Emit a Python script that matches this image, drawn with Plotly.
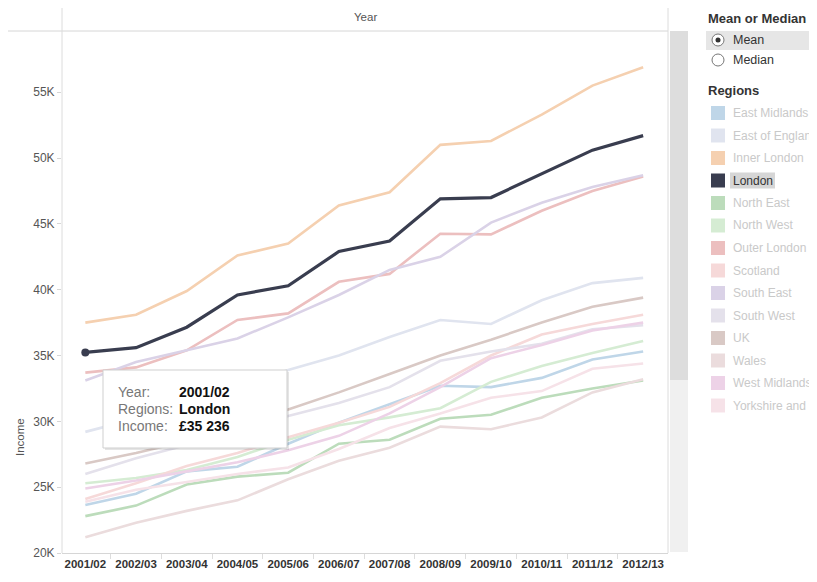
import plotly.graph_objects as go

# ---------------- data ----------------
years = ["2001/02", "2002/03", "2003/04", "2004/05", "2005/06", "2006/07",
         "2007/08", "2008/09", "2009/10", "2010/11", "2011/12", "2012/13"]

regions = ["East Midlands", "East of England", "Inner London", "London", "North East",
           "North West", "Outer London", "Scotland", "South East", "South West", "UK",
           "Wales", "West Midlands", "Yorkshire and the Humber"]

east_midlands   = [23650, 24500, 26200, 26550, 28300, 29900, 31300, 32700, 32600, 33300, 34700, 35300]
east_of_england = [29200, 30200, 31200, 32600, 33900, 35000, 36400, 37700, 37400, 39200, 40500, 40900]
inner_london    = [37500, 38100, 39900, 42600, 43500, 46400, 47400, 51000, 51300, 53300, 55500, 56900]
london          = [35236, 35600, 37150, 39600, 40300, 42900, 43700, 46900, 47000, 48800, 50600, 51700]
north_east      = [22800, 23600, 25200, 25800, 26100, 28300, 28600, 30200, 30500, 31800, 32500, 33100]
north_west      = [25300, 25700, 26300, 27300, 28600, 29700, 30300, 31000, 33000, 34200, 35200, 36100]
outer_london    = [33700, 34100, 35400, 37700, 38200, 40600, 41200, 44250, 44200, 46000, 47500, 48600]
scotland        = [24100, 25300, 26600, 27600, 28800, 29900, 31100, 32900, 35000, 36600, 37400, 38100]
south_east      = [33100, 34500, 35400, 36300, 37900, 39600, 41500, 42500, 45100, 46600, 47800, 48700]
south_west      = [26000, 27200, 28200, 29300, 30400, 31400, 32600, 34600, 35300, 35900, 37000, 37300]
uk              = [26800, 27600, 28500, 29600, 30900, 32200, 33600, 35000, 36200, 37500, 38700, 39400]
wales           = [21200, 22300, 23200, 24000, 25600, 27000, 28000, 29600, 29400, 30300, 32200, 33200]
west_midlands   = [24900, 25500, 26200, 26900, 27800, 28900, 30600, 32600, 34800, 35800, 36900, 37500]
yorkshire       = [23900, 24800, 25400, 26000, 26500, 27900, 29500, 30600, 31800, 32300, 34000, 34400]

series_values = [east_midlands, east_of_england, inner_london, london, north_east,
                 north_west, outer_london, scotland, south_east, south_west, uk,
                 wales, west_midlands, yorkshire]

colors = ["#bfd6e8", "#e0e4ef", "#f5d0b0", "#393d4f", "#bcdcbb",
          "#d5ecd3", "#ecbfbf", "#f6d9d9", "#dad2e7", "#e4e1eb", "#d9c9c5",
          "#ebdcdd", "#edd2e7", "#f6e2e8"]

selected = "London"
y_ticks = [20000, 25000, 30000, 35000, 40000, 45000, 50000, 55000]
y_tick_text = ["20K", "25K", "30K", "35K", "40K", "45K", "50K", "55K"]

# ---------------- layout helpers (window pixel coordinates) ----------------
WIN_W, WIN_H = 817, 582
OFF = 8                      # default page body margin
W, H = WIN_W - OFF, WIN_H - OFF
PL, PR, PT, PB = 62, 668, 31, 553   # plot area in window pixels
ML, MR, MT, MB = PL - OFF, WIN_W - PR, PT - OFF, WIN_H - PB
PW, PH = PR - PL, PB - PT
FONT = "Arial, Liberation Sans, sans-serif"

def px_x(x):
    return (x - PL) / PW

def px_y(y):
    return 1 - (y - PT) / PH

def text(t, x, y, size=11, color="#333", xanchor="left", **kw):
    return dict(text=t, xref="paper", yref="paper", x=px_x(x), y=px_y(y),
                xanchor=xanchor, yanchor="middle", showarrow=False,
                font=dict(size=size, color=color, family=FONT), **kw)

def rect(x0, y0, x1, y1, fill, line=None):
    return dict(type="rect", xref="paper", yref="paper", x0=px_x(x0), x1=px_x(x1),
                y0=px_y(y1), y1=px_y(y0), fillcolor=fill,
                line=line if line else dict(width=0))

fig = go.Figure()

for name, vals, col in zip(regions, series_values, colors):
    if name == selected:
        continue
    fig.add_trace(go.Scatter(x=years, y=vals, mode="lines", name=name,
                             line=dict(color=col, width=2.6), hoverinfo="skip"))

idx = regions.index(selected)
fig.add_trace(go.Scatter(x=years, y=series_values[idx], mode="lines", name=selected,
                         line=dict(color=colors[idx], width=3.2), hoverinfo="skip"))
fig.add_trace(go.Scatter(x=years[:1], y=series_values[idx][:1], mode="markers",
                         marker=dict(color=colors[idx], size=8), hoverinfo="skip"))

shapes = []
annotations = []

# header band
shapes.append(dict(type="line", xref="paper", yref="paper", x0=px_x(8), x1=px_x(668),
                   y0=px_y(31), y1=px_y(31), line=dict(color="#d6d6d6", width=1)))
for xv in (62, 668):
    shapes.append(dict(type="line", xref="paper", yref="paper", x0=px_x(xv), x1=px_x(xv),
                       y0=px_y(8), y1=px_y(553), line=dict(color="#dcdcdc", width=1)))
annotations.append(text("Year", 365, 17, size=11.5, color="#555", xanchor="center"))

# scrollbar
shapes.append(rect(670, 31, 688, 552, "#f0f0f0"))
shapes.append(rect(670, 31, 688, 380, "#dddddd"))

# y axis title
annotations.append(text("Income", 20, 437, size=11.5, color="#555", xanchor="center",
                        textangle=-90))

# tooltip
shapes.append(rect(105, 372, 289, 450, "rgba(0,0,0,0.10)"))
shapes.append(rect(103, 370, 287, 448, "white", dict(color="#cfcfcf", width=1)))
tip_rows = [("Year:", years[0], 392), ("Regions:", selected, 409),
            ("Income:", "£35 236", 426)]
for lab, val, yy in tip_rows:
    annotations.append(text(lab, 116, yy, size=14, color="#777"))
    annotations.append(text("<b>" + val + "</b>", 177, yy, size=14, color="#111"))

# right panel: Mean or Median
annotations.append(text("<b>Mean or Median</b>", 706, 18, size=13, color="#333"))
shapes.append(rect(706, 31, 830, 50, "#e6e6e6"))
for cy in (40, 60):
    shapes.append(dict(type="circle", xref="paper", yref="paper", x0=px_x(712), x1=px_x(724),
                       y0=px_y(cy + 6), y1=px_y(cy - 6), fillcolor="white",
                       line=dict(color="#777", width=1)))
shapes.append(dict(type="circle", xref="paper", yref="paper", x0=px_x(715.5), x1=px_x(720.5),
                   y0=px_y(42.5), y1=px_y(37.5), fillcolor="#333", line=dict(width=0)))
annotations.append(text("Mean", 731, 40, size=12.5, color="#333"))
annotations.append(text("Median", 731, 60, size=12.5, color="#333"))

# right panel: Regions legend
annotations.append(text("<b>Regions</b>", 706, 91, size=13, color="#333"))
for i, (name, col) in enumerate(zip(regions, colors)):
    yy = 113 + 22.5 * i
    shapes.append(rect(711, yy - 7, 725, yy + 7, col))
    if name == selected:
        shapes.append(rect(730, yy - 8, 775, yy + 8, "#d6d6d6"))
        tcol = "#333"
    else:
        tcol = "#c9c9c9"
    annotations.append(text(name, 731, yy, size=12, color=tcol))

fig.update_layout(
    width=W, height=H,
    margin=dict(l=ML, r=MR, t=MT, b=MB, autoexpand=False),
    paper_bgcolor="white", plot_bgcolor="white",
    showlegend=False,
    font=dict(family=FONT),
    shapes=shapes,
    annotations=annotations,
    xaxis=dict(type="category", range=[-0.46, 11.49], showgrid=False, zeroline=False,
               showline=True, linecolor="#d6d6d6", ticks="outside", tickson="boundaries",
               ticklen=5, tickcolor="#dddddd", tickangle=0, automargin=False,
               tickfont=dict(size=11.5, color="#333", family=FONT),
               tickprefix="<b>", ticksuffix="</b>"),
    yaxis=dict(range=[20000, 59650], tickvals=y_ticks, ticktext=y_tick_text,
               showgrid=False, zeroline=False, showline=False, ticks="outside",
               ticklen=4, tickcolor="#d6d6d6", automargin=False,
               tickfont=dict(size=12, color="#555", family=FONT)),
)

fig.write_html("out.html")
